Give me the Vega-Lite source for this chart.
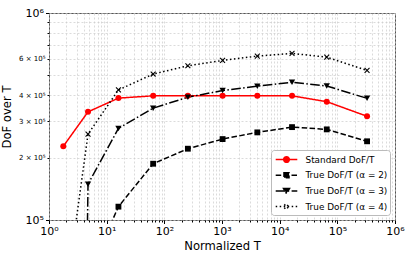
{
  "$schema": "https://vega.github.io/schema/vega-lite/v6.json",
  "width": 346,
  "height": 207,
  "autosize": {"type": "none"},
  "padding": {"left": 49, "top": 13, "right": 20, "bottom": 40},
  "background": "white",
  "config": {
    "font": "DejaVu Sans",
    "view": {"stroke": "#555", "strokeWidth": 1},
    "axis": {
      "domain": false,
      "grid": true,
      "gridColor": "#cccccc",
      "gridDash": [2, 2],
      "gridWidth": 0.7,
      "tickColor": "#000",
      "labelColor": "#000",
      "titleColor": "#000",
      "labelFont": "DejaVu Sans",
      "titleFont": "DejaVu Sans",
      "titleFontWeight": "normal",
      "titleFontSize": 11.6,
      "labelOverlap": false,
      "labelFlush": false
    },
    "legend": {
      "orient": "bottom-right",
      "offset": 5,
      "strokeColor": "#bbbbbb",
      "fillColor": "white",
      "cornerRadius": 3,
      "padding": 2.5,
      "labelFont": "DejaVu Sans",
      "labelFontSize": 8.9,
      "labelColor": "#000",
      "symbolSize": 144,
      "symbolStrokeWidth": 1.5,
      "rowPadding": 2.7,
      "labelOffset": 18
    }
  },
  "data": {
    "values": [
      {"T": 1.77, "dof": 227000, "series": "Standard DoF/T"},
      {"T": 4.75, "dof": 333000, "series": "Standard DoF/T"},
      {"T": 16, "dof": 388000, "series": "Standard DoF/T"},
      {"T": 64, "dof": 398000, "series": "Standard DoF/T"},
      {"T": 256, "dof": 398000, "series": "Standard DoF/T"},
      {"T": 1024, "dof": 398000, "series": "Standard DoF/T"},
      {"T": 4096, "dof": 398000, "series": "Standard DoF/T"},
      {"T": 16384, "dof": 398000, "series": "Standard DoF/T"},
      {"T": 65536, "dof": 373000, "series": "Standard DoF/T"},
      {"T": 327680, "dof": 317000, "series": "Standard DoF/T"},
      {"T": 4.75, "dof": 54000, "series": "True DoF/T (α = 2)"},
      {"T": 16, "dof": 116000, "series": "True DoF/T (α = 2)"},
      {"T": 64, "dof": 187000, "series": "True DoF/T (α = 2)"},
      {"T": 256, "dof": 221000, "series": "True DoF/T (α = 2)"},
      {"T": 1024, "dof": 246000, "series": "True DoF/T (α = 2)"},
      {"T": 4096, "dof": 265000, "series": "True DoF/T (α = 2)"},
      {"T": 16384, "dof": 281000, "series": "True DoF/T (α = 2)"},
      {"T": 65536, "dof": 274000, "series": "True DoF/T (α = 2)"},
      {"T": 327680, "dof": 240000, "series": "True DoF/T (α = 2)"},
      {"T": 1.77, "dof": 0.001, "series": "True DoF/T (α = 3)"},
      {"T": 4.75, "dof": 149000, "series": "True DoF/T (α = 3)"},
      {"T": 16, "dof": 277000, "series": "True DoF/T (α = 3)"},
      {"T": 64, "dof": 347000, "series": "True DoF/T (α = 3)"},
      {"T": 256, "dof": 392000, "series": "True DoF/T (α = 3)"},
      {"T": 1024, "dof": 422000, "series": "True DoF/T (α = 3)"},
      {"T": 4096, "dof": 443000, "series": "True DoF/T (α = 3)"},
      {"T": 16384, "dof": 463000, "series": "True DoF/T (α = 3)"},
      {"T": 65536, "dof": 444000, "series": "True DoF/T (α = 3)"},
      {"T": 327680, "dof": 387000, "series": "True DoF/T (α = 3)"},
      {"T": 1.77, "dof": 35000, "series": "True DoF/T (α = 4)"},
      {"T": 4.75, "dof": 260000, "series": "True DoF/T (α = 4)"},
      {"T": 16, "dof": 425000, "series": "True DoF/T (α = 4)"},
      {"T": 64, "dof": 507000, "series": "True DoF/T (α = 4)"},
      {"T": 256, "dof": 556000, "series": "True DoF/T (α = 4)"},
      {"T": 1024, "dof": 590000, "series": "True DoF/T (α = 4)"},
      {"T": 4096, "dof": 619000, "series": "True DoF/T (α = 4)"},
      {"T": 16384, "dof": 638000, "series": "True DoF/T (α = 4)"},
      {"T": 65536, "dof": 612000, "series": "True DoF/T (α = 4)"},
      {"T": 327680, "dof": 528000, "series": "True DoF/T (α = 4)"}
    ]
  },
  "encoding": {
    "x": {
      "field": "T",
      "type": "quantitative",
      "title": "Normalized T",
      "scale": {"type": "log", "domain": [1, 1000000], "nice": false},
      "axis": {
        "values": [1,2,3,4,5,6,7,8,9,10,20,30,40,50,60,70,80,90,100,200,300,400,500,600,700,800,900,1000,2000,3000,4000,5000,6000,7000,8000,9000,10000,20000,30000,40000,50000,60000,70000,80000,90000,100000,200000,300000,400000,500000,600000,700000,800000,900000,1000000],
        "labelExpr": "indexof([1,10,100,1000,10000,100000,1000000], datum.value) >= 0 ? '10' + ['⁰','¹','²','³','⁴','⁵','⁶'][indexof([1,10,100,1000,10000,100000,1000000], datum.value)] : ''",
        "labelFontSize": 11,
        "tickSize": {"condition": {"test": "indexof([1,10,100,1000,10000,100000,1000000], datum.value) >= 0", "value": 3.5}, "value": 2},
        "labelPadding": 2,
        "titlePadding": 4
      }
    },
    "y": {
      "field": "dof",
      "type": "quantitative",
      "title": "DoF over T",
      "scale": {"type": "log", "domain": [100000, 1000000], "nice": false},
      "axis": {
        "values": [100000,200000,300000,400000,500000,600000,700000,800000,900000,1000000],
        "labelExpr": "datum.value == 100000 ? '10⁵' : datum.value == 1000000 ? '10⁶' : datum.value == 200000 ? '2 × 10⁵' : datum.value == 300000 ? '3 × 10⁵' : datum.value == 400000 ? '4 × 10⁵' : datum.value == 600000 ? '6 × 10⁵' : ''",
        "labelFontSize": {"condition": {"test": "datum.value == 100000 || datum.value == 1000000", "value": 11}, "value": 7},
        "tickSize": {"condition": {"test": "datum.value == 100000 || datum.value == 1000000", "value": 3.5}, "value": 2},
        "labelPadding": 2,
        "titlePadding": 6
      }
    },
    "color": {
      "field": "series",
      "type": "nominal",
      "title": null,
      "scale": {"domain": ["Standard DoF/T", "True DoF/T (α = 2)", "True DoF/T (α = 3)", "True DoF/T (α = 4)"], "range": ["#ff0000", "#000000", "#000000", "#000000"]},
      "legend": {
        "title": null,
        "encode": {
          "symbols": {
            "update": {
              "shape": {"signal": "datum.value == 'Standard DoF/T' ? 'M-0.8,0L2.8,0M1.47,0A0.47,0.47,0,1,1,0.53,0A0.47,0.47,0,1,1,1.47,0Z' : datum.value == 'True DoF/T (α = 2)' ? 'M-0.8,0L2.8,0M0.58,-0.42L1.42,-0.42L1.42,0.42L0.58,0.42Z' : datum.value == 'True DoF/T (α = 3)' ? 'M-0.8,0L2.8,0M0.5,-0.4L1.5,-0.4L1,0.45Z' : 'M-0.8,0L2.8,0M0.63,-0.37L1.37,0.37M0.63,0.37L1.37,-0.37'"},
              "fill": {"signal": "scale('color', datum.value)"}
            }
          }
        }
      }
    }
  },
  "layer": [
    {
      "mark": {"type": "line", "clip": true, "strokeWidth": 1.5},
      "encoding": {
        "strokeDash": {
          "field": "series",
          "type": "nominal",
          "title": null,
          "scale": {"domain": ["Standard DoF/T", "True DoF/T (α = 2)", "True DoF/T (α = 3)", "True DoF/T (α = 4)"], "range": [[1, 0], [5.5, 2.4], [9.6, 2.4, 1.5, 2.4], [1.5, 2.5]]}
        }
      }
    },
    {
      "transform": [{"filter": "datum.series == 'Standard DoF/T'"}],
      "mark": {"type": "point", "clip": true, "filled": true, "size": 36, "opacity": 1, "shape": "circle"},
      "encoding": {}
    },
    {
      "transform": [{"filter": "datum.series == 'True DoF/T (α = 2)'"}],
      "mark": {"type": "point", "clip": true, "filled": true, "size": 34, "opacity": 1, "shape": "square"},
      "encoding": {}
    },
    {
      "transform": [{"filter": "datum.series == 'True DoF/T (α = 3)'"}],
      "mark": {"type": "point", "clip": true, "filled": true, "size": 40, "opacity": 1, "shape": "triangle-down"},
      "encoding": {}
    },
    {
      "transform": [{"filter": "datum.series == 'True DoF/T (α = 4)'"}],
      "mark": {"type": "point", "clip": true, "filled": false, "size": 24, "opacity": 1, "strokeWidth": 1.1, "shape": "M-1,-1L1,1M-1,1L1,-1"},
      "encoding": {}
    }
  ]
}
